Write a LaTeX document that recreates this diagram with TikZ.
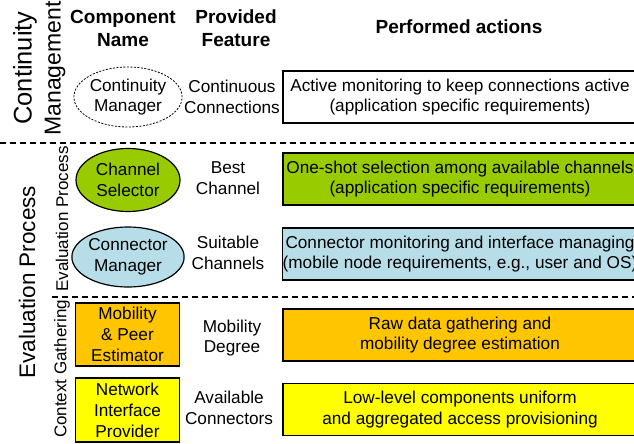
\documentclass[tikz,border=0pt]{standalone}
\usepackage{fontspec}
\setmainfont{Liberation Sans}
\usetikzlibrary{shapes.geometric}
\definecolor{cgreen}{HTML}{99CC00}
\definecolor{cblue}{HTML}{B7DEE8}
\definecolor{corange}{HTML}{FFC600}
\definecolor{cyellow}{HTML}{FFFF00}
\tikzset{
  body/.style={font=\fontsize{17.2}{20.5}\selectfont, align=center, inner sep=0pt},
  head/.style={font=\bfseries\fontsize{19}{23}\selectfont, align=center, inner sep=0pt},
  bigrot/.style={font=\fontsize{24}{25}\selectfont, rotate=90, inner sep=0pt},
  smallrot/.style={font=\fontsize{17}{18}\selectfont, rotate=90, inner sep=0pt},
  comp/.style={body, draw=black, line width=1.2pt, minimum width=104pt},
  ell/.style={comp, ellipse},
  act/.style={body, draw=black, line width=1.2pt, minimum width=354pt, minimum height=52pt},
  sep/.style={dashed, line width=1.3pt, dash pattern=on 6pt off 4pt},
}
\begin{document}
\begin{tikzpicture}[x=1pt,y=-1pt]
\useasboundingbox (0,0) rectangle (634,444);
% side labels
\node[bigrot, font=\fontsize{25.5}{26}\selectfont] (lcont) at (25,68) {Continuity};
\node[bigrot, font=\fontsize{23}{24}\selectfont] (lman) at (55,68.5) {Management};
\node[bigrot, font=\fontsize{22.5}{24}\selectfont] (leval) at (27,282) {Evaluation Process};
\node[smallrot] (leval2) at (62,219) {Evaluation Process};
\node[smallrot] (lctx) at (62,369) {Context Gathering};
% headers
\node[head] (hcomp) at (123,28.5) {Component\\Name};
\node[head] (hfeat) at (236,28.5) {Provided\\Feature};
\node[head] (hact) at (459,27) {Performed actions};
% row 1
\node[ell, dashed, line width=0.8pt, dash pattern=on 2pt off 1.5pt, minimum height=60pt, minimum width=107pt] (cm) at (128,97) {Continuity\\Manager};
\node[body] (fcm) at (232,97) {Continuous\\Connections};
\node[act, fill=white] (acm) at (460,97) {Active monitoring to keep connections active\\(application specific requirements)};
% separator 1
\coordinate (s1a) at (0,143);
\coordinate (s1b) at (634,143);
\draw[sep] (s1a) -- (s1b);
% row 2
\node[ell, fill=cgreen, minimum height=63pt] (cs) at (128,180) {Channel\\Selector};
\node[body] (fcs) at (228,178) {Best\\Channel};
\node[act, fill=cgreen] (acs) at (460,179) {One-shot selection among available channels\\(application specific requirements)};
% row 3
\node[ell, fill=cblue, minimum height=60pt] (cmg) at (128,257) {Connector\\Manager};
\node[body] (fcmg) at (228,253) {Suitable\\Channels};
\node[act, fill=cblue] (acmg) at (460,254) {Connector monitoring and interface managing\\(mobile node requirements, e.g., user and OS)};
% separator 2
\coordinate (s2a) at (52,297);
\coordinate (s2b) at (634,297);
\draw[sep] (s2a) -- (s2b);
% row 4
\node[comp, fill=corange, minimum height=63pt, font=\fontsize{17.2}{21}\selectfont] (mpe) at (127.5,334.5) {Mobility\\\& Peer\\Estimator};
\node[body] (fmpe) at (232,338) {Mobility\\Degree};
\node[act, fill=corange] (ampe) at (460,335) {Raw data gathering and\\mobility degree estimation};
% row 5
\node[comp, fill=cyellow, minimum height=64pt, font=\fontsize{17.2}{21}\selectfont] (nip) at (127.5,410) {Network\\Interface\\Provider};
\node[body] (fnip) at (229,408) {Available\\Connectors};
\node[act, fill=cyellow] (anip) at (460,409.5) {Low-level components uniform\\and aggregated access provisioning};
\end{tikzpicture}
\end{document}
